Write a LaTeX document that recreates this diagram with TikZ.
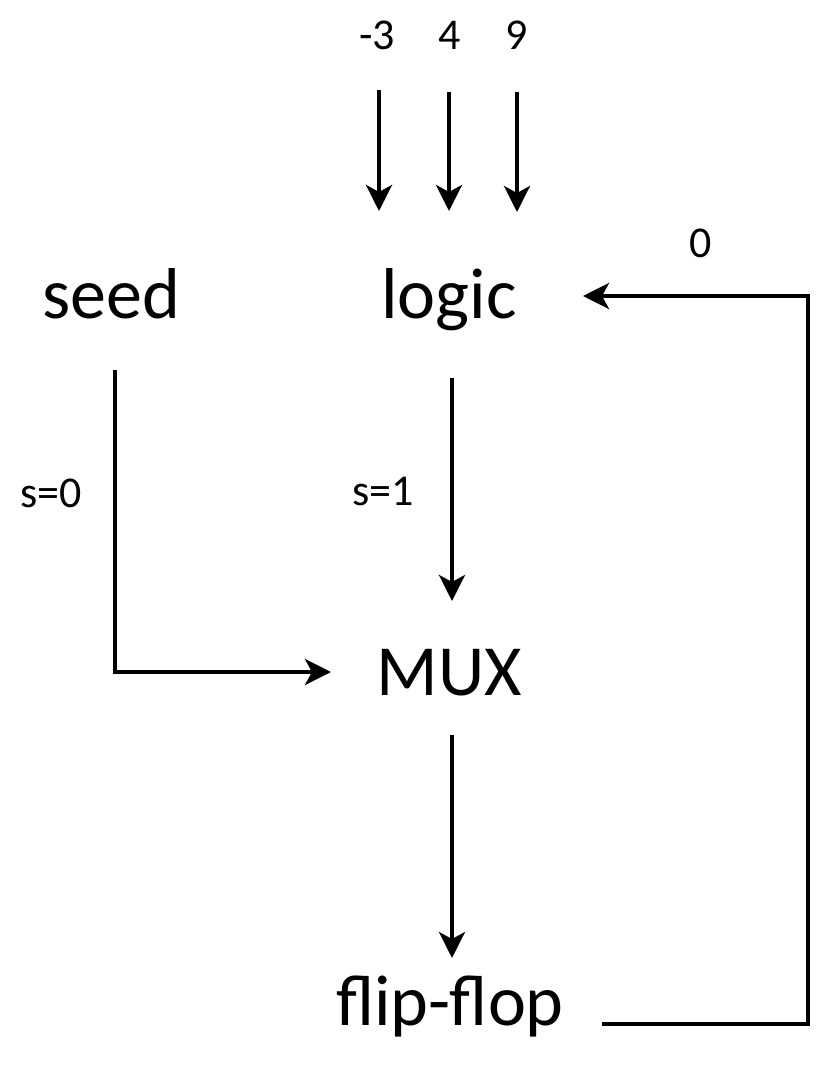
\documentclass[tikz,border=0pt]{standalone}
\usepackage{fontspec}
\setmainfont{Carlito}
\usetikzlibrary{arrows.meta,calc}
\begin{document}
\begin{tikzpicture}[x=1pt,y=-1pt,
  big/.style={font=\fontsize{72}{80}\selectfont, inner sep=0pt, anchor=base},
  small/.style={font=\fontsize{44}{50}\selectfont, inner sep=0pt, anchor=base},
  arr/.style={line width=4pt, -{Stealth[length=26pt,width=26pt,inset=7pt]}},
  wire/.style={line width=4pt}]
\useasboundingbox (0,0) rectangle (820,1073);

% block labels
\node[big] (seed) at (111,318) {seed};
\node[big] (logic) at (449,318) {logic};
\node[big] (mux) at (449,695) {MUX};
\node[big] (ff) at (450,1025) {flip-flop};

% input values
\node[small] (inA) at (377,50) {-3};
\node[small] (inB) at (450,50) {4};
\node[small] (inC) at (517,50) {9};

% edge labels
\node[small] (s0) at (51,507) {s=0};
\node[small] (s1) at (383,505) {s=1};
\node[small] (fb) at (701,257) {0};

% connector end points
\coordinate (aS) at (379,90);  \coordinate (aE) at (379,211);
\coordinate (bS) at (449,92);  \coordinate (bE) at (449,211);
\coordinate (cS) at (517,92);  \coordinate (cE) at (517,212);
\coordinate (seedS) at (115,370);
\coordinate (muxW) at (331,672);
\coordinate (logicS) at (452,378);
\coordinate (muxN) at (452,601);
\coordinate (muxS) at (452,735);
\coordinate (ffN) at (452,958);
\coordinate (ffE) at (602,1024);
\coordinate (logicE) at (583,296);

% inputs into logic
\draw[arr] (aS) -- (aE);
\draw[arr] (bS) -- (bE);
\draw[arr] (cS) -- (cE);

% seed path into the multiplexer
\draw[arr] (seedS) |- (muxW);
% logic into the multiplexer
\draw[arr] (logicS) -- (muxN);
% multiplexer into the flip-flop
\draw[arr] (muxS) -- (ffN);
% feedback from flip-flop to logic
\draw[arr] (ffE) -- (808,1024) -- (808,296) -- (logicE);
\end{tikzpicture}
\end{document}
